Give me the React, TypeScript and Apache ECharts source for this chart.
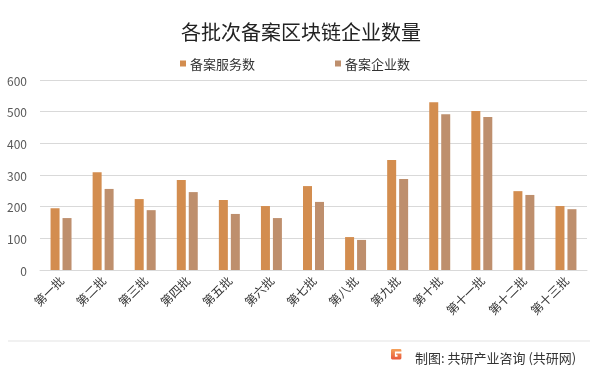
import React, { useEffect, useRef } from "react";
import * as echarts from "echarts";

const categories = ["第一批", "第二批", "第三批", "第四批", "第五批", "第六批", "第七批", "第八批", "第九批", "第十批", "第十一批", "第十二批", "第十三批"];
const serviceCounts = [195, 309, 224, 284, 221, 202, 265, 104, 347, 530, 502, 249, 202];
const companyCounts = [164, 256, 189, 246, 177, 164, 215, 95, 287, 492, 483, 237, 192];
const yTicks = { min: 0, max: 600, interval: 100 };

const logoPath = "M2 0 H14 A2 2 0 0 1 16 2 V4 H6 V12 H10 V9 H8 V7 H16 V14 A2 2 0 0 1 14 16 H2 A2 2 0 0 1 0 14 V2 A2 2 0 0 1 2 0 Z";

export default function App() {
  const ref = useRef<HTMLDivElement>(null);
  useEffect(() => {
    if (!ref.current) return;
    try {
      echarts.graphic.registerShape("logo", echarts.graphic.extendPath(logoPath, {}));
    } catch (e) {}
    const chart = echarts.init(ref.current, null, { renderer: "svg" });
    const font = "'Microsoft YaHei', 'Noto Sans CJK SC', sans-serif";
    chart.setOption({
      animation: false,
      textStyle: { fontFamily: font },
      title: {
        text: "各批次备案区块链企业数量",
        left: "center",
        top: 16,
        textStyle: { fontSize: 20, fontWeight: "normal", color: "#222", fontFamily: font },
      },
      legend: {
        left: 175,
        top: 52,
        itemWidth: 6,
        itemHeight: 6,
        itemGap: 80,
        icon: "rect",
        textStyle: { fontSize: 13, color: "#333", fontFamily: font, padding: [0, 0, 0, -1] },
        data: ["备案服务数", "备案企业数"],
      },
      grid: { left: 40, right: 15, top: 80, bottom: 103, containLabel: false },
      xAxis: {
        type: "category",
        data: categories,
        axisLine: { lineStyle: { color: "#d9d9d9" } },
        axisTick: { show: false },
        axisLabel: { interval: 0, rotate: 45, fontSize: 12, color: "#333", margin: 8, fontFamily: font },
      },
      yAxis: {
        type: "value",
        min: yTicks.min,
        max: yTicks.max,
        interval: yTicks.interval,
        axisLine: { show: false },
        axisTick: { show: false },
        splitLine: { lineStyle: { color: "#d9d9d9" } },
        axisLabel: { fontSize: 12, color: "#595959", margin: 13, fontFamily: font },
      },
      series: [
        {
          name: "备案服务数",
          type: "bar",
          data: serviceCounts,
          barWidth: 9,
          barGap: "33%",
          itemStyle: { color: "#D38D4F" },
        },
        {
          name: "备案企业数",
          type: "bar",
          data: companyCounts,
          barWidth: 9,
          itemStyle: { color: "#BE8F6D" },
        },
      ],
      graphic: [
        {
          type: "line",
          shape: { x1: 8, y1: 341, x2: 590, y2: 341 },
          style: { stroke: "#e3e3e3", lineWidth: 1 },
        },
        {
          type: "logo",
          x: 391,
          y: 349,
          scaleX: 0.65,
          scaleY: 0.65,
          style: {
            fill: new echarts.graphic.LinearGradient(0, 0, 0, 1, [
              { offset: 0, color: "#F5A25A" },
              { offset: 1, color: "#E8573A" },
            ]),
          },
        },
        {
          type: "text",
          x: 415,
          y: 357,
          style: {
            text: "制图: 共研产业咨询 (共研网)",
            fontSize: 13,
            fill: "#333",
            fontFamily: font,
            verticalAlign: "middle",
          },
        },
      ],
    });
    return () => chart.dispose();
  }, []);
  return <div ref={ref} style={{ position: "fixed", left: 0, top: 0, width: 602, height: 373 }} />;
}
